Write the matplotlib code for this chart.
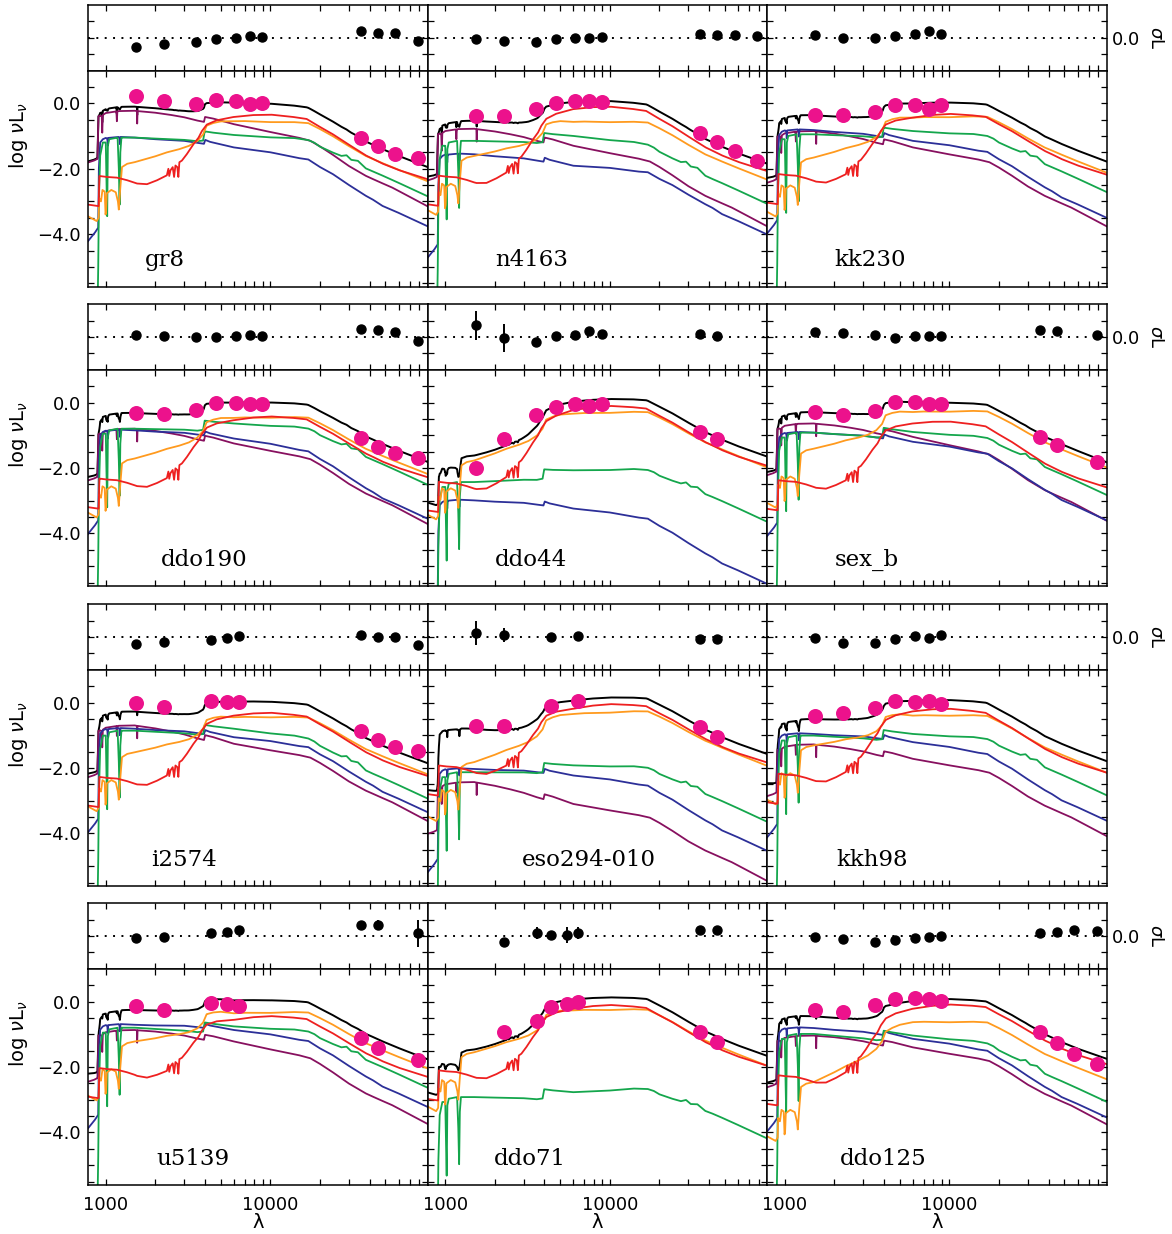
import numpy as np
import matplotlib
matplotlib.use("Agg")
import matplotlib.pyplot as plt
from matplotlib.ticker import FixedLocator, FixedFormatter, NullFormatter

# ---------------------------------------------------------------------------
# Galaxies, in panel order (row by row)
GALAXIES = ["gr8", "n4163", "kk230", "ddo190", "ddo44", "sex_b",
            "i2574", "eso294-010", "kkh98", "u5139", "ddo71", "ddo125"]

# Stellar-population template spectra: wavelength (Angstrom) and log nuL_nu
PURPLE_WAVE = [770, 850, 890, 903, 920, 945, 952, 960, 1000, 1160, 1168, 1176, 1200,
               1500, 1545, 1552, 1560, 2000, 2500, 3000, 3600, 3950, 4010, 4500, 6000,
               10000, 15000, 17500, 20000, 24000, 30000, 38000, 42000, 48000, 55000,
               60000, 90000]
PURPLE_LOGL = [-1.82, -1.75, -1.70, -0.40, -0.38, -0.40, -0.90, -0.36, -0.30, -0.25,
               -0.55, -0.25, -0.24, -0.23, -0.24, -0.62, -0.24, -0.29, -0.36, -0.43,
               -0.53, -0.57, -0.42, -0.47, -0.64, -0.88, -1.06, -1.15, -1.32, -1.58,
               -1.92, -2.22, -2.32, -2.45, -2.58, -2.68, -3.15]

BLUE_WAVE = [770, 860, 900, 908, 925, 960, 1000, 1022, 1028, 1035, 1200, 1212, 1218,
             1230, 1500, 2000, 3000, 3600, 3950, 4020, 4300, 6000, 10000, 15000, 17000,
             20000, 24000, 30000, 38000, 42000, 48000, 60000, 90000]
BLUE_LOGL = [-4.25, -3.95, -3.80, -2.00, -1.20, -1.10, -1.06, -1.08, -1.30, -1.06,
             -1.03, -1.08, -1.25, -1.03, -1.05, -1.10, -1.15, -1.21, -1.24, -1.12,
             -1.18, -1.35, -1.50, -1.68, -1.72, -1.95, -2.17, -2.50, -2.83, -2.95,
             -3.14, -3.35, -3.76]

GREEN_WAVE = [770, 890, 900, 908, 925, 960, 1000, 1012, 1020, 1030, 1050, 1180, 1200,
              1214, 1226, 1245, 1500, 2000, 3000, 3600, 3900, 3990, 4500, 6000, 10000,
              14000, 17000, 18500, 20000, 24000, 27000, 29000, 31000, 34000, 38000,
              48000, 60000, 90000]
GREEN_LOGL = [-7.0, -6.5, -5.0, -3.0, -1.60, -1.20, -1.20, -2.6, -3.45, -1.30, -1.10,
              -1.05, -2.0, -3.10, -1.5, -1.05, -1.05, -1.08, -1.12, -1.16, -1.14, -0.86,
              -0.90, -0.97, -1.04, -1.06, -1.12, -1.20, -1.32, -1.50, -1.60, -1.58,
              -1.72, -1.75, -1.98, -2.20, -2.42, -2.83]

ORANGE_WAVE = [770, 880, 905, 912, 935, 955, 985, 997, 1005, 1015, 1080, 1150, 1185,
               1200, 1225, 1255, 1350, 1500, 2000, 2350, 2800, 3200, 3600, 3900, 4100,
               4500, 5000, 7000, 10000, 14000, 17000, 20000, 24000, 30000, 38000,
               48000, 60000, 90000]
ORANGE_LOGL = [-3.44, -3.60, -3.50, -2.90, -3.00, -2.65, -2.70, -3.40, -3.30, -2.75,
               -2.65, -2.72, -3.00, -3.25, -2.60, -1.95, -1.85, -1.80, -1.62, -1.50,
               -1.40, -1.30, -1.15, -0.95, -0.68, -0.60, -0.55, -0.54, -0.57, -0.57,
               -0.60, -0.78, -1.00, -1.30, -1.60, -1.82, -2.02, -2.37]

RED_WAVE = [770, 905, 915, 1020, 1170, 1350, 1550, 1780, 2050, 2350, 2400, 2430, 2470,
            2550, 2600, 2650, 2720, 2760, 2800, 2900, 3110, 3410, 3660, 3835, 4110,
            4720, 5960, 7890, 10190, 13800, 16600, 19950, 24000, 30300, 38200, 48300,
            60900, 90000]
RED_LOGL = [-3.09, -3.14, -2.22, -2.25, -2.27, -2.35, -2.45, -2.47, -2.35, -2.20,
            -2.00, -2.22, -2.05, -1.95, -2.25, -1.90, -1.95, -2.25, -1.80, -1.75,
            -1.55, -1.25, -1.05, -0.85, -0.65, -0.52, -0.42, -0.36, -0.35, -0.42,
            -0.48, -0.72, -0.95, -1.28, -1.60, -1.85, -2.05, -2.32]

# Fitted level of each component per galaxy at 1500 A, 6000 A and 4 micron
ANCHOR_WAVE = [1500, 6000, 40000]
PURPLE_LEVEL = [[-0.23, -0.64, -2.27], [-0.78, -1.30, -2.88], [-0.85, -1.35, -2.88],
                [-0.80, -1.25, -2.83], [-12.0, -12.0, -12.0], [-0.64, -1.05, -2.73],
                [-0.70, -1.26, -2.74], [-2.43, -3.10, -4.57], [-1.28, -1.72, -3.20],
                [-0.87, -1.22, -2.86], [-12.0, -12.0, -12.0], [-1.04, -1.40, -2.87]]
BLUE_LEVEL = [[-1.05, -1.35, -2.89], [-1.56, -1.91, -3.14], [-0.82, -1.15, -2.63],
              [-0.85, -1.10, -2.68], [-2.99, -3.24, -4.67], [-0.92, -1.20, -2.73],
              [-0.80, -1.06, -2.48], [-2.03, -2.23, -3.66], [-0.96, -1.21, -2.74],
              [-0.71, -0.87, -2.35], [-12.0, -12.0, -12.0], [-0.81, -1.14, -2.67]]
GREEN_LEVEL = [[-1.05, -0.97, -2.04], [-1.15, -1.00, -2.27], [-0.95, -0.85, -1.91],
               [-0.80, -0.64, -1.71], [-2.43, -2.07, -2.84], [-0.92, -0.90, -2.02],
               [-0.86, -0.80, -2.13], [-2.13, -1.92, -2.84], [-1.01, -0.96, -2.03],
               [-0.80, -0.76, -1.83], [-2.92, -2.77, -3.38], [-0.99, -1.04, -2.26]]
ORANGE_LEVEL = [[-1.80, -0.55, -1.66], [-1.61, -0.57, -1.61], [-1.66, -0.44, -1.40],
                [-1.71, -0.47, -1.46], [-1.77, -0.34, -1.26], [-1.41, -0.29, -1.26],
                [-1.52, -0.45, -1.47], [-1.82, -0.35, -1.21], [-1.31, -0.40, -1.42],
                [-1.22, -0.36, -1.32], [-1.55, -0.27, -1.24], [-2.46, -0.63, -1.65]]
RED_LEVEL = [[-2.43, -0.42, -1.65], [-2.42, -0.18, -1.40], [-2.37, -0.44, -1.51],
             [-2.53, -0.54, -1.61], [-2.63, -0.23, -1.26], [-2.58, -0.64, -1.92],
             [-2.48, -0.40, -1.57], [-2.13, -0.19, -1.16], [-2.38, -0.27, -1.47],
             [-2.24, -0.56, -1.63], [-2.31, -0.22, -1.29], [-2.46, -0.22, -1.24]]
# Extra young light that enters the total model but has no curve of its own
# (blue template shape)
EXTRA_LEVEL = [[-12.0, -12.0, -12.0]] * 7 + [[-0.94, -1.50, -3.00]] + [[-12.0, -12.0, -12.0]] * 4

# Observed photometry (wavelength in A, log nuL_nu) and fit residuals
PHOT_WAVE = [
    [1528, 2271, 3551, 4686, 6166, 7480, 8932, 35500, 44930, 57310, 78720],
    [1528, 2271, 3551, 4686, 6166, 7480, 8932, 35500, 44930, 57310, 78720],
    [1528, 2271, 3551, 4686, 6166, 7480, 8932],
    [1528, 2271, 3551, 4686, 6166, 7480, 8932, 35500, 44930, 57310, 78720],
    [1528, 2271, 3551, 4686, 6166, 7480, 8932, 35500, 44930],
    [1528, 2271, 3551, 4686, 6166, 7480, 8932, 35500, 44930, 78720],
    [1528, 2271, 4380, 5450, 6410, 35500, 44930, 57310, 78720],
    [1528, 2271, 4380, 6410, 35500, 44930],
    [1528, 2271, 3551, 4686, 6166, 7480, 8932],
    [1528, 2271, 4380, 5450, 6410, 35500, 44930, 78720],
    [2271, 3600, 4380, 5450, 6410, 35500, 44930],
    [1528, 2271, 3551, 4686, 6166, 7480, 8932, 35500, 44930, 57310, 78720],
]
PHOT_LOGL = [
    [0.22, 0.07, -0.03, 0.09, 0.07, -0.01, 0.00, -1.05, -1.30, -1.56, -1.68],
    [-0.39, -0.39, -0.18, 0.02, 0.07, 0.07, 0.05, -0.90, -1.18, -1.46, -1.78],
    [-0.37, -0.37, -0.26, -0.06, -0.06, -0.18, -0.06],
    [-0.31, -0.34, -0.23, 0.00, 0.00, -0.03, -0.03, -1.08, -1.35, -1.54, -1.68],
    [-1.99, -1.10, -0.37, -0.13, -0.06, -0.11, -0.06, -0.90, -1.12],
    [-0.29, -0.37, -0.26, 0.02, 0.02, -0.03, -0.06, -1.05, -1.30, -1.81],
    [-0.02, -0.14, 0.06, 0.03, 0.01, -0.88, -1.13, -1.36, -1.49],
    [-0.72, -0.72, -0.12, 0.04, -0.75, -1.04],
    [-0.42, -0.32, -0.16, 0.05, 0.03, 0.05, -0.04],
    [-0.15, -0.25, -0.05, -0.07, -0.13, -1.12, -1.43, -1.80],
    [-0.94, -0.58, -0.17, -0.07, -0.02, -0.94, -1.24],
    [-0.27, -0.31, -0.10, 0.08, 0.11, 0.08, 0.03, -0.94, -1.27, -1.60, -1.90],
]
RESID = [
    [-0.57, -0.41, -0.28, -0.08, 0.00, 0.10, 0.04, 0.41, 0.26, 0.26, -0.22],
    [-0.10, -0.18, -0.26, -0.06, 0.00, -0.04, 0.04, 0.22, 0.18, 0.18, 0.08],
    [0.14, 0.00, -0.04, 0.10, 0.22, 0.41, 0.22],
    [0.10, 0.08, 0.00, 0.00, 0.08, 0.10, 0.08, 0.49, 0.41, 0.30, -0.26],
    [0.71, -0.06, -0.33, 0.04, 0.14, 0.35, 0.18, 0.20, 0.08],
    [0.30, 0.24, 0.14, -0.06, 0.04, 0.04, 0.08, 0.43, 0.39, 0.10],
    [-0.41, -0.30, -0.16, -0.06, 0.04, 0.14, 0.02, 0.00, -0.51],
    [0.24, 0.14, 0.00, 0.06, -0.10, -0.10],
    [-0.06, -0.37, -0.37, -0.10, 0.06, -0.04, 0.14],
    [-0.14, -0.04, 0.16, 0.22, 0.37, 0.67, 0.69, 0.16],
    [-0.35, 0.18, 0.08, 0.08, 0.18, 0.37, 0.39],
    [-0.08, -0.18, -0.39, -0.22, -0.12, -0.06, 0.00, 0.18, 0.22, 0.39, 0.28],
]
RESID_ERR = [
    [0.1] * 11,
    [0.1] * 11,
    [0.1] * 7,
    [0.1] * 11,
    [0.88, 0.88, 0.1, 0.1, 0.1, 0.1, 0.1, 0.1, 0.1],
    [0.1] * 10,
    [0.1] * 9,
    [0.75, 0.43, 0.1, 0.1, 0.1, 0.1],
    [0.1] * 7,
    [0.1, 0.1, 0.1, 0.1, 0.1, 0.1, 0.30, 0.85],
    [0.1, 0.36, 0.1, 0.5, 0.36, 0.1, 0.1],
    [0.1] * 11,
]

# ---------------------------------------------------------------------------
# Styling and layout (pixel geometry of a 1172 x 1234 canvas)
COLORS = {"purple": "#87105f", "blue": "#2c2f98", "green": "#14a64c",
          "orange": "#ff9a1e", "red": "#ee2020"}
POINT_COLOR = "#ec128c"
W_PX, H_PX = 1172, 1234
COL_LEFT = [88, 427.5, 767]
COL_W = 339.5
ROW_TOP = [5, 304.3, 604.3, 903.3]
RES_H = 65.5
SED_H = 216
XLIM = (780, 90000)
LABEL_X = [0.227, 0.306, 0.305, 0.342, 0.306, 0.293,
           0.283, 0.474, 0.309, 0.308, 0.303, 0.342]
MINOR_X = [2000, 3000, 4000, 5000, 6000, 7000, 8000, 9000,
           20000, 30000, 40000, 50000, 60000, 70000, 80000]


def rect(left, top, w, h):
    return [left / W_PX, 1 - (top + h) / H_PX, w / W_PX, h / H_PX]


TEMPLATES = {
    "purple": (PURPLE_WAVE, PURPLE_LOGL, PURPLE_LEVEL),
    "blue": (BLUE_WAVE, BLUE_LOGL, BLUE_LEVEL),
    "green": (GREEN_WAVE, GREEN_LOGL, GREEN_LEVEL),
    "orange": (ORANGE_WAVE, ORANGE_LOGL, ORANGE_LEVEL),
    "red": (RED_WAVE, RED_LOGL, RED_LEVEL),
    "extra": (BLUE_WAVE, BLUE_LOGL, EXTRA_LEVEL),
}
DRAWN = ["purple", "blue", "green", "orange", "red"]

grid = np.unique(np.concatenate([np.asarray(t[0], float) for t in TEMPLATES.values()]))
lgrid = np.log10(grid)
lanchor = np.log10(ANCHOR_WAVE)


def component(name, idx):
    wave, logl, level = TEMPLATES[name]
    lw = np.log10(np.asarray(wave, float))
    lv = np.asarray(logl, float)
    base = np.interp(lgrid, lw, lv)
    shift_at_anchor = np.asarray(level[idx]) - np.interp(lanchor, lw, lv)
    return base + np.interp(lgrid, lanchor, shift_at_anchor)


fig = plt.figure(figsize=(11.72, 12.34), dpi=100)
plt.rcParams["font.family"] = "DejaVu Sans"
TICK_FS = 13


def style_axis(ax):
    ax.set_xscale("log")
    ax.set_xlim(XLIM)
    ax.xaxis.set_major_locator(FixedLocator([1000, 10000]))
    ax.xaxis.set_minor_locator(FixedLocator(MINOR_X))
    ax.xaxis.set_major_formatter(NullFormatter())
    ax.xaxis.set_minor_formatter(NullFormatter())
    ax.tick_params(which="both", direction="in", top=True, right=True,
                   length=4.2, width=0.9, labelsize=TICK_FS)
    for s in ax.spines.values():
        s.set_linewidth(1.1)


for i, name in enumerate(GALAXIES):
    r, c = divmod(i, 3)
    ax_res = fig.add_axes(rect(COL_LEFT[c], ROW_TOP[r], COL_W, RES_H))
    ax_sed = fig.add_axes(rect(COL_LEFT[c], ROW_TOP[r] + RES_H, COL_W, SED_H))
    style_axis(ax_res)
    style_axis(ax_sed)

    # --- residual strip
    ax_res.set_ylim(-2, 2)
    ax_res.yaxis.set_major_locator(FixedLocator([-1, 0, 1]))
    ax_res.axhline(0, color="k", lw=1.4, ls=(0, (1, 3.3)))
    ax_res.errorbar(PHOT_WAVE[i], RESID[i], yerr=RESID_ERR[i], fmt="o", color="k",
                    ms=6.5, elinewidth=1.4, capsize=0, zorder=3)
    if c == 2:
        ax_res.yaxis.set_major_formatter(FixedFormatter(["", "0.0", ""]))
        ax_res.tick_params(axis="y", labelleft=False, labelright=True, pad=4)
        cy = ROW_TOP[r] + RES_H / 2
        fig.text(1156 / W_PX, 1 - cy / H_PX, r"$\sigma$L", rotation=270,
                 ha="center", va="center", fontsize=13)
    else:
        ax_res.yaxis.set_major_formatter(NullFormatter())

    # --- SED panel
    curves = {k: component(k, i) for k in TEMPLATES}
    total = np.log10(sum(10.0 ** v for v in curves.values()))
    ax_sed.plot(grid, total, color="k", lw=1.4, zorder=2)
    for k in DRAWN:
        ax_sed.plot(grid, curves[k], color=COLORS[k], lw=1.3, zorder=2)
    ax_sed.plot(PHOT_WAVE[i], PHOT_LOGL[i], "o", color=POINT_COLOR, ms=10.8,
                mec="none", zorder=4)

    ax_sed.set_ylim(-5.6, 1.0)
    ax_sed.yaxis.set_major_locator(FixedLocator([-4, -2, 0]))
    ax_sed.yaxis.set_minor_locator(FixedLocator(np.arange(-5.5, 1.0, 0.5)))
    if c == 0:
        ax_sed.yaxis.set_major_formatter(FixedFormatter(["\u22124.0", "\u22122.0", "0.0"]))
        ax_sed.tick_params(axis="y", pad=5)
        fig.text(19 / W_PX, 1 - (ROW_TOP[r] + RES_H + SED_H * 0.30) / H_PX,
                 r"log $\nu$L$_\nu$", rotation=90, ha="center", va="center",
                 fontsize=14)
    else:
        ax_sed.yaxis.set_major_formatter(NullFormatter())
    if r == 3:
        ax_sed.xaxis.set_major_formatter(FixedFormatter(["1000", "10000"]))
        ax_sed.tick_params(axis="x", pad=8)
        fig.text((COL_LEFT[c] + COL_W / 2) / W_PX, 1 - 1222 / H_PX, "\u03bb",
                 ha="center", va="center", fontsize=14)

    ax_sed.text(LABEL_X[i], 0.093, name, transform=ax_sed.transAxes,
                ha="center", va="baseline", fontsize=16.5, family="DejaVu Serif",
                zorder=5)

fig.savefig("out.png", dpi=100)
